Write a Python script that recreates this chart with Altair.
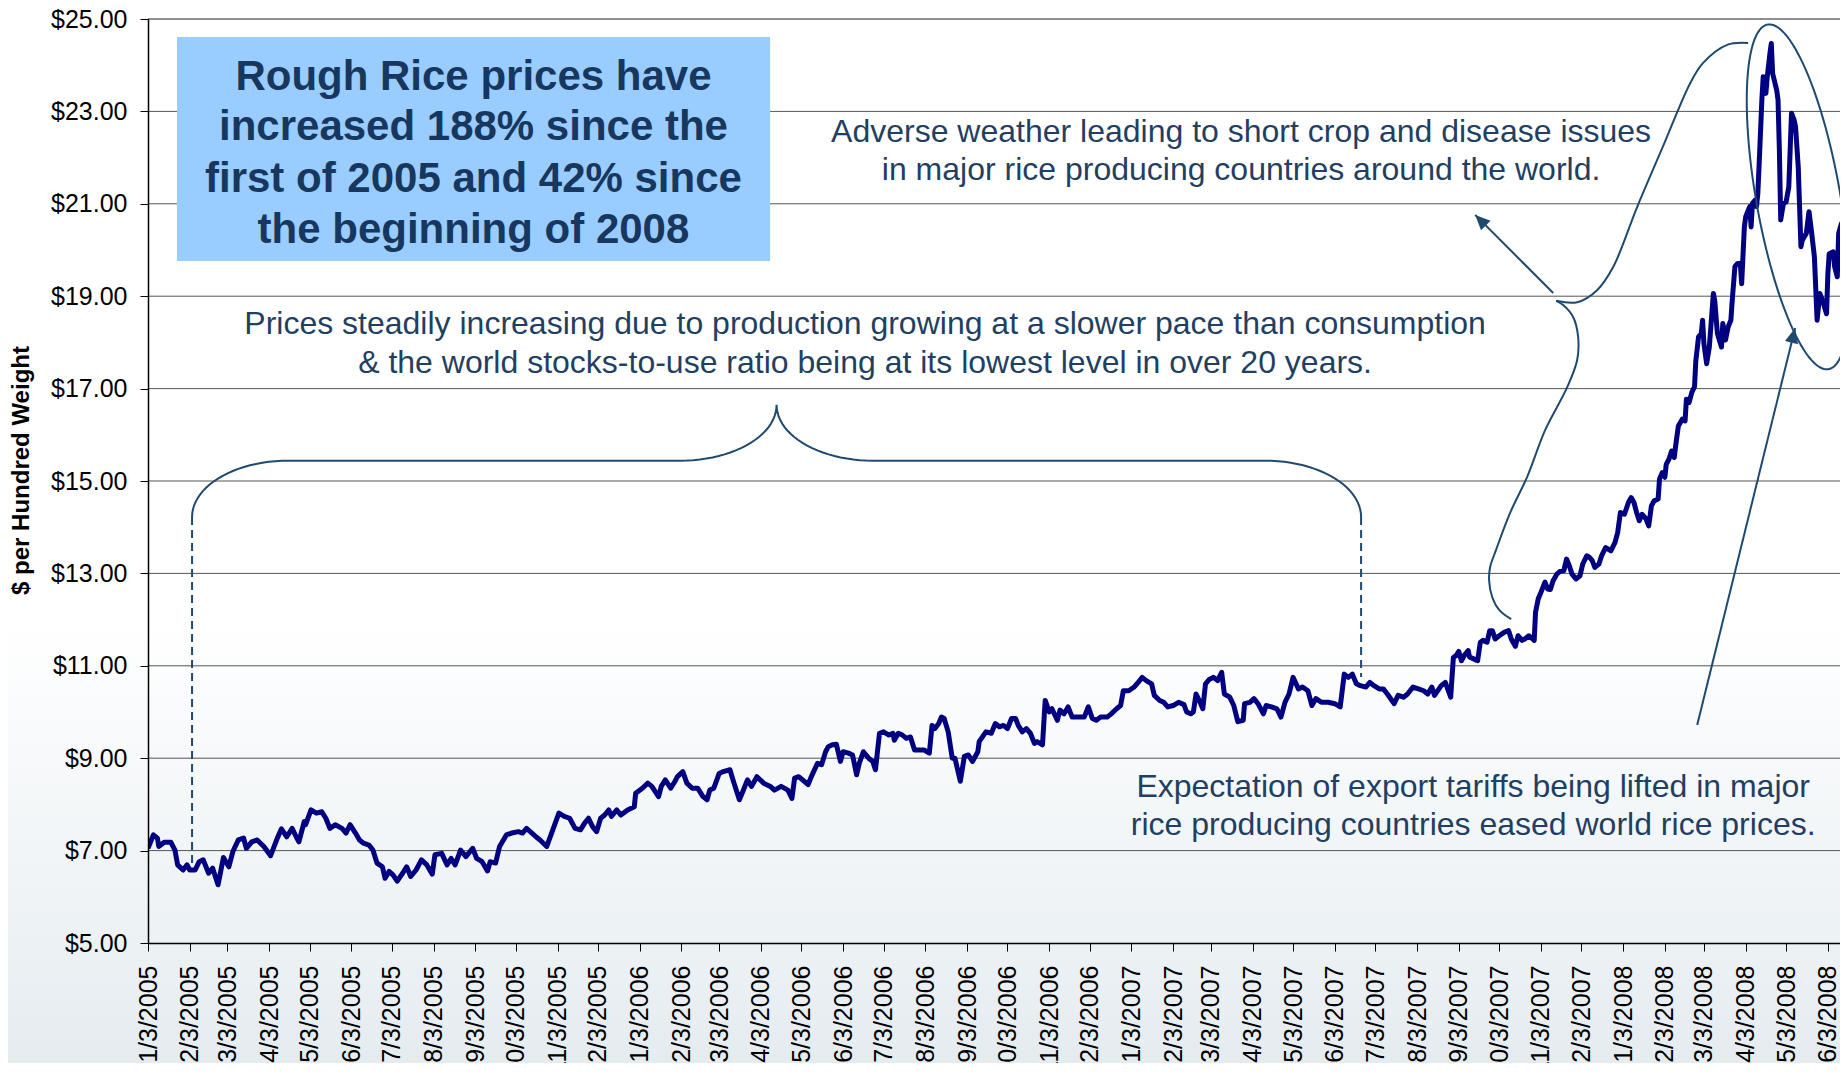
import altair as alt
import numpy as np
import pandas as pd

# ---------------- data ----------------
START = pd.Timestamp("2005-01-03")      # first trading day shown
X_END = "2008-06-12"                     # right edge of the plot

# days after 1/3/2005 and Rough Rice price ($ per hundred weight)
DAYS = [
    0, 4, 7, 8, 12, 17, 20, 22, 26, 29, 31, 35, 38, 41, 45, 48, 52, 56, 60, 63,
    67, 71, 73, 77, 81, 86, 91, 96, 99, 103, 107, 110, 112, 116, 117, 121, 125, 129, 132, 135,
    139, 144, 147, 150, 154, 157, 160, 164, 167, 170, 174, 176, 179, 182, 185, 189, 192, 195, 199, 203,
    207, 211, 213, 218, 222, 225, 228, 232, 236, 241, 244, 248, 252, 254, 258, 261, 266, 270, 275, 278,
    281, 285, 288, 291, 296, 300, 305, 309, 313, 317, 321, 324, 327, 330, 333, 336, 339, 342, 344, 348,
    351, 356, 361, 362, 367, 371, 374, 379, 381, 384, 388, 391, 393, 397, 400, 404, 408, 412, 415, 417,
    420, 424, 427, 432, 435, 439, 442, 445, 448, 452, 457, 462, 465, 470, 475, 478, 480, 483, 490, 493,
    497, 500, 503, 505, 508, 511, 514, 516, 520, 523, 526, 528, 531, 535, 538, 540, 543, 546, 550, 553,
    554, 557, 560, 563, 566, 569, 573, 576, 580, 582, 584, 587, 589, 591, 594, 597, 599, 603, 606, 609,
    612, 616, 617, 622, 626, 629, 632, 635, 638, 641, 644, 646, 649, 652, 655, 658, 660, 664, 666, 669,
    671, 675, 677, 680, 683, 686, 689, 695, 698, 701, 704, 707, 712, 715, 719, 722, 724, 728, 732, 735,
    738, 741, 745, 747, 751, 754, 757, 761, 765, 769, 771, 774, 776, 778, 781, 783, 785, 788, 791, 794,
    797, 799, 803, 806, 809, 813, 814, 818, 821, 824, 828, 830, 834, 838, 841, 844, 847, 850, 854, 857,
    861, 864, 867, 871, 876, 881, 885, 888, 891, 894, 897, 900, 904, 907, 910, 914, 917, 920, 925, 928,
    932, 935, 939, 943, 947, 950, 953, 955, 960, 963, 967, 969, 971, 973, 975, 977, 980, 981, 984, 987,
    989, 991, 994, 996, 998, 1000, 1003, 1007, 1010, 1012, 1015, 1017, 1020, 1022, 1025, 1028, 1029, 1030, 1032, 1034,
    1037, 1039, 1041, 1043, 1046, 1048, 1051, 1053, 1055, 1057, 1060, 1063, 1065, 1068, 1070, 1072, 1074, 1077, 1079, 1082,
    1086, 1089, 1091, 1093, 1096, 1099, 1101, 1103, 1105, 1107, 1109, 1112, 1114, 1116, 1118, 1121, 1122, 1124, 1126, 1127,
    1129, 1131, 1133, 1134, 1136, 1139, 1141, 1142, 1144, 1146, 1148, 1149, 1151, 1153, 1154, 1155, 1157, 1159, 1162, 1163,
    1165, 1168, 1169, 1171, 1173, 1175, 1176, 1178, 1180, 1182, 1183, 1185, 1186, 1189, 1190, 1191, 1193, 1194, 1195, 1196,
    1198, 1199, 1201, 1202, 1204, 1205, 1206, 1209, 1210, 1211, 1212, 1214, 1216, 1218, 1220, 1222, 1223, 1225, 1227, 1228,
    1231, 1233, 1235, 1237, 1239, 1241, 1243, 1246, 1247, 1248, 1251, 1252, 1254, 1255, 1257, 1259, 1260,
]
PRICES = [
    7.05, 7.34, 7.27, 7.09, 7.18, 7.18, 7.01, 6.69, 6.58, 6.69, 6.58, 6.58, 6.76, 6.80, 6.51, 6.62, 6.26, 6.85, 6.65, 6.98,
    7.23, 7.27, 7.05, 7.19, 7.23, 7.09, 6.89, 7.27, 7.47, 7.30, 7.48, 7.30, 7.19, 7.63, 7.56, 7.88, 7.81, 7.84, 7.70, 7.48,
    7.56, 7.48, 7.38, 7.56, 7.38, 7.23, 7.16, 7.12, 7.01, 6.73, 6.65, 6.40, 6.55, 6.47, 6.34, 6.51, 6.65, 6.44, 6.58, 6.80,
    6.69, 6.49, 6.91, 6.94, 6.69, 6.83, 6.69, 7.01, 6.87, 7.05, 6.83, 6.76, 6.56, 6.76, 6.73, 7.09, 7.34, 7.38, 7.41, 7.38,
    7.48, 7.38, 7.30, 7.23, 7.09, 7.41, 7.81, 7.74, 7.70, 7.48, 7.45, 7.59, 7.70, 7.52, 7.41, 7.70, 7.77, 7.88, 7.74, 7.88,
    7.77, 7.88, 7.95, 8.24, 8.35, 8.46, 8.39, 8.17, 8.39, 8.53, 8.35, 8.49, 8.60, 8.71, 8.46, 8.35, 8.35, 8.17, 8.10, 8.31,
    8.35, 8.67, 8.71, 8.75, 8.46, 8.10, 8.31, 8.53, 8.39, 8.60, 8.46, 8.39, 8.31, 8.39, 8.31, 8.13, 8.57, 8.60, 8.43, 8.64,
    8.89, 8.86, 9.14, 9.25, 9.29, 9.30, 8.93, 9.14, 9.11, 9.07, 8.64, 8.89, 9.14, 9.00, 8.93, 8.75, 9.54, 9.57, 9.50, 9.54,
    9.39, 9.54, 9.50, 9.43, 9.46, 9.18, 9.18, 9.18, 9.11, 9.71, 9.64, 9.75, 9.89, 9.86, 9.57, 9.00, 9.00, 8.50, 9.04, 9.07,
    8.93, 9.14, 9.36, 9.57, 9.54, 9.75, 9.68, 9.71, 9.64, 9.86, 9.86, 9.71, 9.57, 9.64, 9.54, 9.32, 9.36, 9.29, 10.25, 10.00,
    10.07, 9.82, 10.04, 9.96, 10.11, 9.89, 9.89, 9.89, 10.11, 9.86, 9.82, 9.89, 9.89, 9.96, 10.07, 10.14, 10.46, 10.46, 10.54, 10.64,
    10.75, 10.68, 10.61, 10.36, 10.25, 10.21, 10.11, 10.14, 10.21, 10.16, 10.00, 9.96, 10.00, 10.39, 10.21, 10.07, 10.61, 10.71, 10.75, 10.68,
    10.86, 10.39, 10.32, 10.14, 9.79, 9.82, 10.18, 10.21, 10.29, 10.18, 9.96, 10.14, 10.11, 10.07, 9.89, 10.21, 10.39, 10.75, 10.50, 10.54,
    10.46, 10.14, 10.29, 10.21, 10.21, 10.18, 10.11, 10.82, 10.75, 10.82, 10.61, 10.57, 10.54, 10.64, 10.57, 10.50, 10.50, 10.39, 10.18, 10.36,
    10.32, 10.39, 10.54, 10.50, 10.46, 10.39, 10.54, 10.36, 10.57, 10.64, 10.32, 11.18, 11.22, 11.31, 11.11, 11.22, 11.33, 11.19, 11.15, 11.11,
    11.51, 11.55, 11.51, 11.76, 11.76, 11.58, 11.65, 11.73, 11.76, 11.58, 11.42, 11.65, 11.55, 11.58, 11.65, 11.58, 11.55, 12.16, 12.45, 12.59,
    12.81, 12.66, 12.65, 12.84, 12.99, 13.04, 13.06, 13.31, 13.17, 12.99, 12.88, 12.95, 13.20, 13.38, 13.35, 13.28, 13.13, 13.20, 13.38, 13.56,
    13.49, 13.67, 13.89, 14.32, 14.28, 14.54, 14.64, 14.54, 14.32, 14.14, 14.28, 14.18, 14.03, 14.46, 14.57, 14.61, 15.04, 15.18, 15.08, 15.36,
    15.47, 15.65, 15.51, 15.76, 16.19, 16.34, 16.30, 16.77, 16.70, 16.92, 17.04, 17.61, 18.12, 18.19, 18.48, 17.97, 17.54, 17.90, 19.06, 18.91,
    18.19, 17.90, 18.41, 18.05, 18.34, 18.48, 18.91, 19.64, 19.71, 19.71, 19.27, 20.50, 20.72, 20.94, 20.50, 21.01, 21.08, 20.94, 21.22, 21.87,
    23.25, 23.75, 23.39, 23.75, 24.26, 24.47, 23.82, 23.46, 23.25, 22.16, 20.65, 21.01, 21.04, 21.37, 22.96, 22.81, 22.67, 21.80, 20.07, 20.21,
    20.36, 20.83, 20.36, 19.85, 18.48, 19.06, 18.91, 18.62, 19.49, 19.92, 19.96, 19.64, 19.42, 20.36, 20.57, 20.65, 20.36,
]

X_TICKS = [
    "2005-01-03", "2005-02-03", "2005-03-03", "2005-04-03", "2005-05-03", "2005-06-03",
    "2005-07-03", "2005-08-03", "2005-09-03", "2005-10-03", "2005-11-03", "2005-12-03",
    "2006-01-03", "2006-02-03", "2006-03-03", "2006-04-03", "2006-05-03", "2006-06-03",
    "2006-07-03", "2006-08-03", "2006-09-03", "2006-10-03", "2006-11-03", "2006-12-03",
    "2007-01-03", "2007-02-03", "2007-03-03", "2007-04-03", "2007-05-03", "2007-06-03",
    "2007-07-03", "2007-08-03", "2007-09-03", "2007-10-03", "2007-11-03", "2007-12-03",
    "2008-01-03", "2008-02-03", "2008-03-03", "2008-04-03", "2008-05-03", "2008-06-03",
]
Y_TICKS = [5, 7, 9, 11, 13, 15, 17, 19, 21, 23, 25]
Y_TITLE = "$ per Hundred Weight"

# ---------------- annotations (in data units: days after 1/3/2005, $) ----------------
BOX_LINES = ["Rough Rice prices have", "increased 188% since the",
             "first of 2005 and 42% since", "the beginning of 2008"]
BOX_LINE_DAY = 241.6
BOX_LINE_VALUES = [23.46, 22.38, 21.26, 20.15]
BOX_DAYS = [21.5, 461.8]
BOX_VALUES = [19.76, 24.61]

NOTE_WEATHER = ["Adverse weather leading to short crop and disease issues",
                "in major rice producing countries around the world."]
NOTE_WEATHER_DAY = 811.4
NOTE_WEATHER_VALUES = [22.34, 21.52]

NOTE_STEADY = ["Prices steadily increasing due to production growing at a slower pace than consumption",
               "& the world stocks-to-use ratio being at its lowest level in over 20 years."]
NOTE_STEADY_DAY = 532.3
NOTE_STEADY_VALUES = [18.18, 17.34]

NOTE_TARIFF = ["Expectation of export tariffs being lifted in major",
               "rice producing countries eased world rice prices."]
NOTE_TARIFF_DAY = 983.7
NOTE_TARIFF_VALUES = [8.16, 7.34]

# horizontal curly brace over 2005-2007
BRACE_START_DAY, BRACE_END_DAY = 32.7, 900.5
BRACE_END_VALUE, BRACE_BAR_VALUE, BRACE_TIP_VALUE = 14.22, 15.44, 16.65
BRACE_CORNER_DAYS = 71.5
DASH_DAYS = [32.7, 900.5]
DASH_TOP = [14.22, 14.22]
DASH_BOTTOM = [6.65, 10.76]

# tilted brace on the right
BRACKET_UPPER_DAYS = [1187.8, 1172.2, 1154.4, 1144.8, 1125.0, 1105.4, 1087.6, 1075.7, 1060.9, 1045.3]
BRACKET_UPPER_VALUES = [24.48, 24.44, 24.05, 23.61, 22.27, 20.93, 19.63, 19.13, 18.87, 18.90]
BRACKET_LOWER_DAYS = [1045.3, 1050.5, 1057.9, 1061.6, 1060.9, 1053.5, 1037.1, 1023.8, 1011.1, 1000.7,
                      996.3, 995.5, 997.8, 1003.0, 1011.9]
BRACKET_LOWER_VALUES = [18.90, 18.81, 18.55, 18.12, 17.62, 17.03, 16.10, 15.09, 14.31, 13.51,
                        13.14, 12.86, 12.49, 12.21, 12.01]

# ellipse around the peak: centre and two conjugate half-axes
ELLIPSE_CENTER = (1224.9, 21.15)
ELLIPSE_U = (-22.6, 3.73)
ELLIPSE_V = (30.7, 0.158)

# arrows
ARROW_TAIL_DAYS = [1043.1, 1150.0]
ARROW_TAIL_VALUES = [19.07, 9.72]
ARROW_TIP_DAYS = [985.2, 1222.7]
ARROW_TIP_VALUES = [20.76, 18.31]
ARROW_ANGLES = [315, 13.9]

# ---------------- styles ----------------
FONT = "Liberation Sans"
LINE_COLOR = "#000080"
NOTE_COLOR = "#1F3F63"
SHAPE_COLOR = "#1F4A70"
BOX_FILL = "#99CCFF"
BOX_TEXT = "#17375E"
W, H = 1692, 924


def to_date(days):
    return START + pd.to_timedelta(np.asarray(days, dtype=float), unit="D")


def dt(s):
    t = pd.Timestamp(s)
    return alt.DateTime(year=t.year, month=t.month, date=t.day)


XSCALE = alt.Scale(domain=[dt(START), dt(X_END)], nice=False)
YSCALE = alt.Scale(domain=[Y_TICKS[0], Y_TICKS[-1]], nice=False, zero=False)

AXIS_STYLE = dict(
    labelFont=FONT, labelColor="#000000", labelFontSize=25,
    domainColor="#000000", domainWidth=1.5, tickColor="#000000", tickWidth=1,
    tickSize=8, grid=False, zindex=2, labelOverlap=False, labelFlush=False,
)
X_AXIS = alt.Axis(
    values=[dt(s) for s in X_TICKS], format="%-m/%-d/%Y", title=None,
    labelAngle=270, labelAlign="right", labelBaseline="middle",
    labelPadding=14, labelBound=False, **AXIS_STYLE,
)
Y_AXIS = alt.Axis(
    values=Y_TICKS, format="$.2f", title=Y_TITLE, labelPadding=13,
    titleX=-120, titleY=451, titleAngle=270, titleAlign="center",
    titleBaseline="alphabetic", titleFontSize=24, titleFontWeight="bold",
    titleFont=FONT, titleColor="#000000", **AXIS_STYLE,
)


# every layer carries the same axis definition so the shared axes merge cleanly
def X(field="date"):
    return alt.X(f"{field}:T", scale=XSCALE, axis=X_AXIS)


def Y(field="value"):
    return alt.Y(f"{field}:Q", scale=YSCALE, axis=Y_AXIS)


# ---------------- layers ----------------
bg = alt.Chart(pd.DataFrame({"a": [0]})).mark_rect(
    fill=alt.LinearGradient(
        gradient="linear", x1=0, x2=0, y1=0, y2=1,
        stops=[alt.GradientStop(color="#ffffff", offset=0),
               alt.GradientStop(color="#ffffff", offset=0.58),
               alt.GradientStop(color="#e5ecf0", offset=1)]),
    clip=False,
).encode(x=alt.value(-140), x2=alt.value(W), y=alt.value(-11), y2=alt.value(H + 120))

grid_df = pd.DataFrame({"value": Y_TICKS[1:-1]})
grid = alt.Chart(grid_df).mark_rule(color="#555555", strokeWidth=1).encode(y=Y())
top_grid = alt.Chart(pd.DataFrame({"value": [Y_TICKS[-1]]})).mark_rule(
    color="#8f8f8f", strokeWidth=2).encode(y=Y())

box_df = pd.DataFrame({"date": to_date([BOX_DAYS[0]]), "date2": to_date([BOX_DAYS[1]]),
                       "value": [BOX_VALUES[0]], "value2": [BOX_VALUES[1]]})
box = alt.Chart(box_df).mark_rect(fill=BOX_FILL).encode(
    x=X(), x2="date2:T", y=Y(), y2="value2:Q")

box_text = alt.Chart(pd.DataFrame({
    "date": to_date([BOX_LINE_DAY] * len(BOX_LINES)), "value": BOX_LINE_VALUES, "t": BOX_LINES,
})).mark_text(font=FONT, fontSize=42, fontWeight="bold", color=BOX_TEXT,
              align="center", baseline="alphabetic").encode(x=X(), y=Y(), text="t:N")

price_df = pd.DataFrame({"date": to_date(DAYS), "value": PRICES})
price = alt.Chart(price_df).mark_line(
    color=LINE_COLOR, strokeWidth=5, clip=True, strokeJoin="round"
).encode(x=X(), y=Y())


# horizontal brace
def brace_frame():
    s, e = BRACE_START_DAY, BRACE_END_DAY
    mid = (s + e) / 2
    r = BRACE_CORNER_DAYS
    t = np.linspace(0, np.pi / 2, 24)
    d1 = (s + r) - r * np.cos(t)
    v1 = BRACE_END_VALUE + (BRACE_BAR_VALUE - BRACE_END_VALUE) * np.sin(t)
    d2 = (mid - r) + r * np.sin(t)
    v2 = BRACE_TIP_VALUE - (BRACE_TIP_VALUE - BRACE_BAR_VALUE) * np.cos(t)
    ld = np.concatenate([d1, d2])
    lv = np.concatenate([v1, v2])
    rd = (2 * mid - ld)[::-1]
    rv = lv[::-1]
    days = np.concatenate([ld, rd])
    vals = np.concatenate([lv, rv])
    return pd.DataFrame({"date": to_date(days), "value": vals, "o": np.arange(len(days))})


brace = alt.Chart(brace_frame()).mark_line(color=SHAPE_COLOR, strokeWidth=2).encode(
    x=X(), y=Y(), order="o:Q")

dash_df = pd.DataFrame({"date": to_date(DASH_DAYS), "value": DASH_TOP, "value2": DASH_BOTTOM})
dashes = alt.Chart(dash_df).mark_rule(color=SHAPE_COLOR, strokeWidth=2, strokeDash=[8, 5]).encode(
    x=X(), y=Y(), y2="value2:Q")

bracket_df = pd.concat([
    pd.DataFrame({"date": to_date(BRACKET_UPPER_DAYS), "value": BRACKET_UPPER_VALUES,
                  "part": "upper", "o": range(len(BRACKET_UPPER_DAYS))}),
    pd.DataFrame({"date": to_date(BRACKET_LOWER_DAYS), "value": BRACKET_LOWER_VALUES,
                  "part": "lower", "o": range(len(BRACKET_LOWER_DAYS))}),
])
bracket = alt.Chart(bracket_df).mark_line(
    color=SHAPE_COLOR, strokeWidth=2, interpolate="catmull-rom"
).encode(x=X(), y=Y(), detail="part:N", order="o:Q")

tt = np.linspace(0, 2 * np.pi, 121)
ell_df = pd.DataFrame({
    "date": to_date(ELLIPSE_CENTER[0] + ELLIPSE_U[0] * np.cos(tt) + ELLIPSE_V[0] * np.sin(tt)),
    "value": ELLIPSE_CENTER[1] + ELLIPSE_U[1] * np.cos(tt) + ELLIPSE_V[1] * np.sin(tt),
    "o": np.arange(len(tt)),
})
ellipse = alt.Chart(ell_df).mark_line(color=SHAPE_COLOR, strokeWidth=2, clip=True).encode(
    x=X(), y=Y(), order="o:Q")

arrow_df = pd.DataFrame({
    "date": to_date(ARROW_TAIL_DAYS), "value": ARROW_TAIL_VALUES,
    "date2": to_date(ARROW_TIP_DAYS), "value2": ARROW_TIP_VALUES,
})
arrows = alt.Chart(arrow_df).mark_rule(color=SHAPE_COLOR, strokeWidth=2).encode(
    x=X(), y=Y(), x2="date2:T", y2="value2:Q")

head_df = pd.DataFrame({"date": to_date(ARROW_TIP_DAYS), "value": ARROW_TIP_VALUES,
                        "angle": ARROW_ANGLES})
heads = alt.Chart(head_df).mark_point(
    shape="M0,0 L0.45,1 L-0.45,1 Z", filled=True, fill=SHAPE_COLOR, opacity=1,
    size=900, strokeWidth=0,
).encode(x=X(), y=Y(), angle=alt.Angle("angle:Q", scale=None))


def note(lines, day, values):
    df = pd.DataFrame({"date": to_date([day] * len(lines)), "value": values, "t": lines})
    return alt.Chart(df).mark_text(
        font=FONT, fontSize=32, color=NOTE_COLOR, align="center", baseline="alphabetic"
    ).encode(x=X(), y=Y(), text="t:N")


notes = [note(NOTE_WEATHER, NOTE_WEATHER_DAY, NOTE_WEATHER_VALUES),
         note(NOTE_STEADY, NOTE_STEADY_DAY, NOTE_STEADY_VALUES),
         note(NOTE_TARIFF, NOTE_TARIFF_DAY, NOTE_TARIFF_VALUES)]

chart = alt.layer(
    bg, grid, top_grid, box, box_text, price, brace, dashes, bracket, ellipse, arrows, heads, *notes
).properties(
    width=W, height=H,
    autosize=alt.AutoSizeParams(type="none"),
    padding={"left": 140, "top": 11, "right": 0, "bottom": 120},
).configure_view(
    stroke=None
).configure(background="#ffffff")

chart.save("out.html", embed_options={"renderer": "svg", "actions": False})
